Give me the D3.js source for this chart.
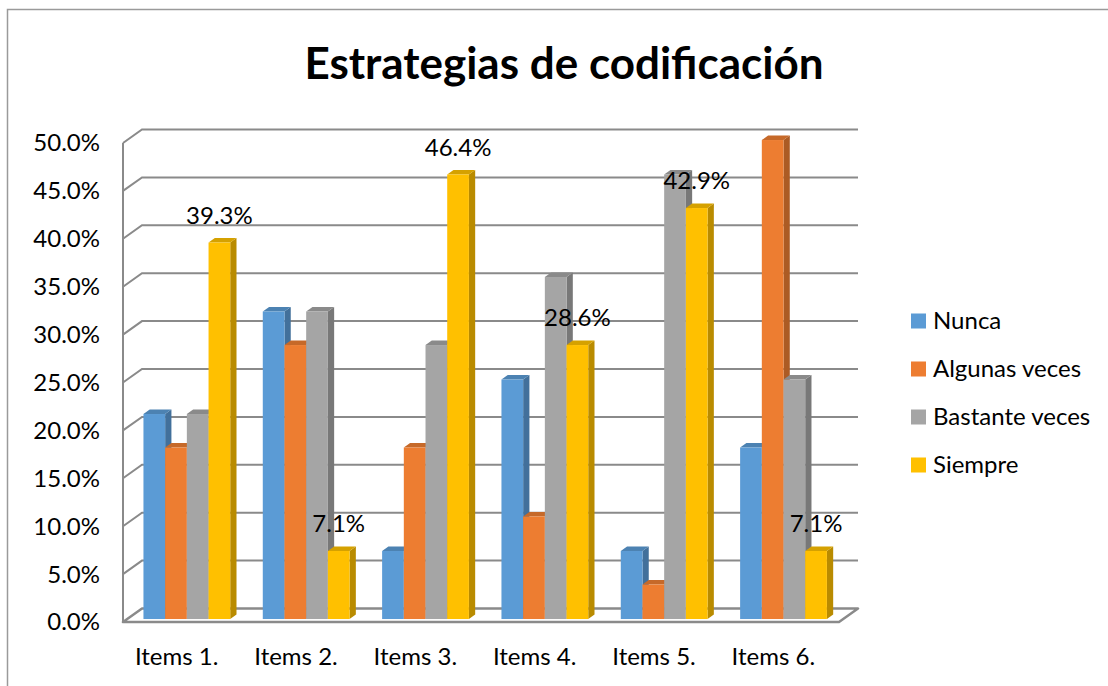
<!DOCTYPE html>
<html>
<head>
<meta charset="utf-8">
<script src="https://cdn.jsdelivr.net/npm/d3@7"></script>
<style>
  body { margin: 0; background: #fff; }
  text { font-family: Lato, "Open Sans", sans-serif; fill: #000; }
</style>
</head>
<body>
<svg id="chart" width="1108" height="686"></svg>
<script>
// data (28 respondents)
const categories = ["Items 1.", "Items 2.", "Items 3.", "Items 4.", "Items 5.", "Items 6."];
const series = ["Nunca", "Algunas veces", "Bastante veces", "Siempre"];
const nunca = [0.214, 0.321, 0.071, 0.250, 0.071, 0.179];
const algunas = [0.179, 0.286, 0.179, 0.107, 0.036, 0.500];
const bastante = [0.214, 0.321, 0.286, 0.357, 0.464, 0.250];
const siempre = [0.393, 0.071, 0.464, 0.286, 0.429, 0.071];
const yTicks = [0, 0.05, 0.1, 0.15, 0.2, 0.25, 0.3, 0.35, 0.4, 0.45, 0.5];
const colors = ["#5b9bd5", "#ed7d31", "#a5a5a5", "#ffc000"];
const labelled = "Siempre";

const values = [nunca, algunas, bastante, siempre];

const width = 1108, height = 686;
const plot = { left: 123, right: 839, top: 143, bottom: 622 };
const depth = { dx: 19, dy: 13.5 };   // full depth of the 3d box
const barDepth = [0.22, 0.55];        // bars sit inside this slice of the depth

const svg = d3.select("#chart");

svg.append("rect")
  .attr("x", 7.5).attr("y", 9.5)
  .attr("width", 1110).attr("height", 690)
  .attr("fill", "#fff")
  .attr("stroke", "#9a9a9a")
  .attr("stroke-width", 1.5);

const x = d3.scaleBand()
  .domain(categories)
  .range([plot.left, plot.right])
  .paddingInner(1.5 / 5.5)
  .paddingOuter(0.75 / 5.5);

const xs = d3.scaleBand()
  .domain(series)
  .range([0, x.bandwidth()]);

const y = d3.scaleLinear()
  .domain([0, 0.5])
  .range([plot.bottom, plot.top]);

// project a point at depth d (0 = front, 1 = back)
const px = (xv, d) => xv + depth.dx * d;
const py = (yv, d) => yv - depth.dy * d;

const gridColor = "#8a8a8a";

// floor
const floor = svg.append("g");
floor.append("polygon")
  .attr("points", [
    [px(plot.left, 0), py(y(0), 0)],
    [px(plot.right, 0), py(y(0), 0)],
    [px(plot.right, 1), py(y(0), 1)],
    [px(plot.left, 1), py(y(0), 1)]
  ].map(p => p.join(",")).join(" "))
  .attr("fill", "#fff")
  .attr("stroke", gridColor)
  .attr("stroke-width", 2.5)
  .attr("stroke-linejoin", "round");

// gridlines on the back wall + slants on the side wall
const grid = svg.append("g")
  .attr("stroke", gridColor)
  .attr("stroke-width", 2)
  .attr("fill", "none");

grid.selectAll("path")
  .data(yTicks.filter(t => t > 0))
  .join("path")
  .attr("d", t => `M${px(plot.left, 0)},${py(y(t), 0)}L${px(plot.left, 1)},${py(y(t), 1)}L${px(plot.right, 1)},${py(y(t), 1)}`);

grid.append("path")
  .attr("d", `M${plot.left},${y(0.5)}V${y(0)}`);

// y tick labels
svg.append("g")
  .selectAll("text")
  .data(yTicks)
  .join("text")
  .attr("x", 100)
  .attr("y", t => y(t))
  .attr("dy", "0.35em")
  .attr("text-anchor", "end")
  .style("font-size", "24px")
  .text(d3.format(".1%"));

// bars
const bars = [];
categories.forEach((c, i) => {
  series.forEach((s, j) => {
    bars.push({ cat: c, series: s, value: values[j][i], color: colors[j] });
  });
});

const [d0, d1] = barDepth;
const bdx = depth.dx * (d1 - d0), bdy = depth.dy * (d1 - d0);

const bar = svg.append("g")
  .selectAll("g")
  .data(bars)
  .join("g");

bar.each(function (d) {
  const g = d3.select(this);
  const x0 = px(x(d.cat) + xs(d.series), d0);
  const x1 = x0 + xs.bandwidth();
  const yt = py(y(d.value), d0);
  const yb = py(y(0), d0);
  const base = d3.color(d.color);

  g.append("polygon")
    .attr("points", [[x1, yt], [x1 + bdx, yt - bdy], [x1 + bdx, yb - bdy], [x1, yb]].map(p => p.join(",")).join(" "))
    .attr("fill", base.darker(0.9));
  g.append("polygon")
    .attr("points", [[x0, yt], [x0 + bdx, yt - bdy], [x1 + bdx, yt - bdy], [x1, yt]].map(p => p.join(",")).join(" "))
    .attr("fill", base.darker(0.5));
  g.append("rect")
    .attr("x", x0)
    .attr("y", yt)
    .attr("width", x1 - x0)
    .attr("height", yb - yt)
    .attr("fill", base);
});

// data labels on the Siempre series
svg.append("g")
  .selectAll("text")
  .data(bars.filter(d => d.series === labelled))
  .join("text")
  .attr("x", d => px(x(d.cat) + xs(d.series) + xs.bandwidth() / 2, d0))
  .attr("y", d => py(y(d.value), d0) - 19)
  .attr("text-anchor", "middle")
  .style("font-size", "24px")
  .text(d => d3.format(".1%")(d.value));

// category labels
svg.append("g")
  .selectAll("text")
  .data(categories)
  .join("text")
  .attr("x", c => x(c) + x.bandwidth() / 2 - 6)
  .attr("y", 665)
  .attr("text-anchor", "middle")
  .style("font-size", "24px")
  .text(c => c);

// title
svg.append("text")
  .attr("x", 564)
  .attr("y", 79)
  .attr("text-anchor", "middle")
  .style("font-size", "44px")
  .style("font-weight", "bold")
  .text("Estrategias de codificación");

// legend
const legend = svg.append("g")
  .selectAll("g")
  .data(series)
  .join("g")
  .attr("transform", (s, i) => `translate(911,${321 + i * 48})`);

legend.append("rect")
  .attr("x", 0).attr("y", -7.5)
  .attr("width", 15).attr("height", 15)
  .attr("fill", (s, i) => colors[i]);

legend.append("text")
  .attr("x", 22)
  .attr("dy", "0.35em")
  .style("font-size", "24px")
  .text(s => s);
</script>
</body>
</html>
